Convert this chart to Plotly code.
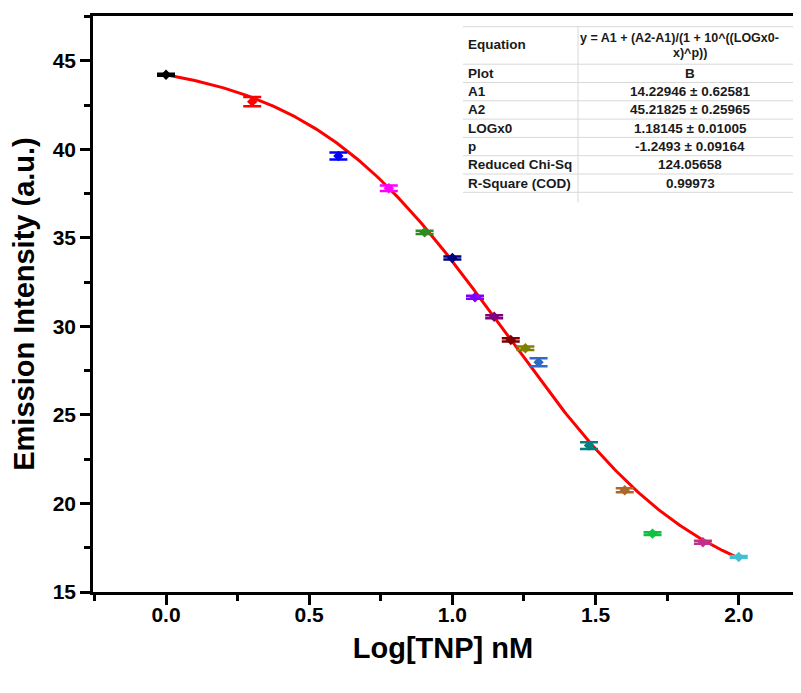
import numpy as np
import plotly.graph_objects as go

# ---------------- data ----------------
log_conc = [0.0, 0.301, 0.602, 0.778, 0.903, 1.0, 1.079, 1.146, 1.204, 1.255,
            1.301, 1.477, 1.602, 1.699, 1.875, 2.0]
intensity = [44.22, 42.70, 39.63, 37.81, 35.32, 33.87, 31.65, 30.55, 29.24, 28.77,
             27.98, 23.27, 20.75, 18.30, 17.81, 16.98]
err = [0.06, 0.26, 0.20, 0.15, 0.09, 0.08, 0.08, 0.08, 0.09, 0.10,
       0.22, 0.19, 0.11, 0.08, 0.08, 0.05]
point_colors = ["#000000", "#FF0000", "#0000FF", "#FF00FF", "#2E8B22", "#000080",
                "#8000FF", "#800080", "#800000", "#808000", "#3169C6", "#008080",
                "#A8692A", "#10C040", "#C0308A", "#40C0D0"]

# Fit parameters (from the chart's table)
A1 = 14.22946
A2 = 45.21825
LOGx0 = 1.18145
P = -1.2493

table_labels = ["Equation", "Plot", "A1", "A2", "LOGx0", "p",
                "Reduced Chi-Sq", "R-Square (COD)"]
table_values = ["y = A1 + (A2-A1)/(1 + 10^((LOGx0-", "B", "14.22946 \u00b1 0.62581",
                "45.21825 \u00b1 0.25965", "1.18145 \u00b1 0.01005",
                "-1.2493 \u00b1 0.09164", "124.05658", "0.99973"]
equation_line2 = "x)^p))"

x_ticks = [0.0, 0.5, 1.0, 1.5, 2.0]
y_ticks = [15, 20, 25, 30, 35, 40, 45]

# ---------------- figure ----------------
OFF = 8                      # default page body margin
W, H = 785, 677
L, R, T, B = 85, 0, 8, 93
pw, ph = W - L - R, H - T - B
x_range = [-0.255, -0.255 + pw / 286.35]
y_range = [15, 47.54]

fig = go.Figure()

xf = np.linspace(min(log_conc), max(log_conc), 300)
yf = A1 + (A2 - A1) / (1 + 10 ** ((LOGx0 - xf) * P))
fig.add_trace(go.Scatter(x=xf, y=yf, mode="lines",
                         line=dict(color="#FF0000", width=3), hoverinfo="skip"))

for xv, yv, ev, c in zip(log_conc, intensity, err, point_colors):
    fig.add_trace(go.Scatter(
        x=[xv], y=[yv], mode="markers",
        marker=dict(color=c, size=8, symbol="diamond"),
        error_y=dict(type="data", array=[ev], visible=True, color=c,
                     thickness=2.5, width=9),
    ))


def px(xp):
    return (xp - OFF - L) / pw


def py(yp):
    return (H - B - (yp - OFF)) / ph


grid = "#d8d8d8"
tx0, tdiv, tx1 = 463, 578, OFF + W
row_lines = [26.7, 64.2, 82.5, 100.8, 119.1, 137.4, 155.7, 174.0, 192.3, 202.5]
fig.add_shape(type="rect", xref="paper", yref="paper",
              x0=px(tx0), x1=px(tx1), y0=py(row_lines[-1]), y1=py(row_lines[0]),
              fillcolor="white", line=dict(width=0), layer="above")
for yl in row_lines[:-1]:
    fig.add_shape(type="line", xref="paper", yref="paper",
                  x0=px(tx0), x1=px(tx1), y0=py(yl), y1=py(yl),
                  line=dict(color=grid, width=1), layer="above")
fig.add_shape(type="line", xref="paper", yref="paper",
              x0=px(tdiv), x1=px(tdiv), y0=py(row_lines[-1]), y1=py(row_lines[0]),
              line=dict(color=grid, width=1), layer="above")

tfont = dict(family="Liberation Sans, Arial", size=13.5, color="#1a1a1a", weight="bold")
efont = dict(family="Liberation Sans, Arial", size=12.5, color="#1a1a1a", weight="bold")
centers = [44.5] + [(row_lines[i] + row_lines[i + 1]) / 2 for i in range(1, 8)]
centers[-1] = 183.3
for lab, cy in zip(table_labels, centers):
    fig.add_annotation(xref="paper", yref="paper", x=px(466), y=py(cy),
                       text=lab, showarrow=False, xanchor="left", yanchor="middle",
                       font=tfont)
for val, cy in zip(table_values[1:], centers[1:]):
    fig.add_annotation(xref="paper", yref="paper", x=px(690), y=py(cy),
                       text=val, showarrow=False, xanchor="center", yanchor="middle",
                       font=tfont)
fig.add_annotation(xref="paper", yref="paper", x=px(578), y=py(38.3),
                   text=table_values[0], showarrow=False, xanchor="left",
                   yanchor="middle", font=efont)
fig.add_annotation(xref="paper", yref="paper", x=px(690), y=py(53.3),
                   text=equation_line2, showarrow=False, xanchor="center",
                   yanchor="middle", font=efont)

axis_font = dict(family="Liberation Sans, Arial", size=21, color="black", weight="bold")
title_font = dict(family="Liberation Sans, Arial", size=29, color="black", weight="bold")

fig.update_layout(
    width=W, height=H,
    margin=dict(l=L, r=R, t=T, b=B, pad=0, autoexpand=False),
    paper_bgcolor="white", plot_bgcolor="white",
    showlegend=False,
    xaxis=dict(range=x_range, tickvals=x_ticks, ticktext=[f"{v:.1f}" for v in x_ticks],
               automargin=False, ticklabelstandoff=-8,
               showline=True, linecolor="black", linewidth=2.5, mirror=True,
               ticks="outside", ticklen=10, tickwidth=2.5, tickcolor="black",
               minor=dict(dtick=0.25, tick0=0, ticks="outside", ticklen=6,
                          tickwidth=2.5, tickcolor="black"),
               showgrid=False, zeroline=False, tickfont=axis_font,
               title=dict(text="Log[TNP] nM", font=title_font, standoff=13)),
    yaxis=dict(range=y_range, tickvals=y_ticks, automargin=False,
               showline=True, linecolor="black", linewidth=2.5, mirror=False,
               ticks="outside", ticklen=10, tickwidth=2.5, tickcolor="black",
               minor=dict(dtick=2.5, tick0=15, ticks="outside", ticklen=6,
                          tickwidth=2.5, tickcolor="black"),
               showgrid=False, zeroline=False, tickfont=axis_font,
               title=dict(text="Emission Intensity (a.u.)", font=title_font, standoff=10)),
)

fig.write_html("out.html")
